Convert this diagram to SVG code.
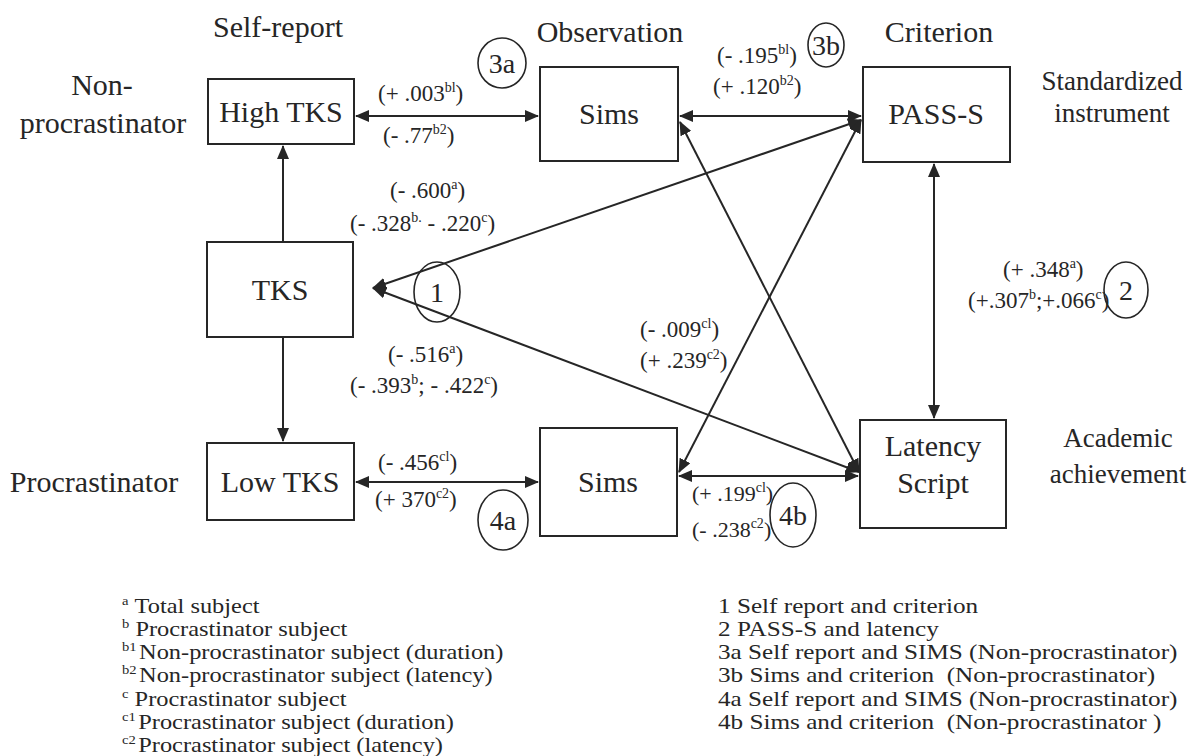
<svg xmlns="http://www.w3.org/2000/svg" width="1189" height="756" viewBox="0 0 1189 756" font-family="'Liberation Serif', 'DejaVu Serif', 'Times New Roman', serif">
<style>
text, tspan{font-family:'Liberation Serif','DejaVu Serif','Times New Roman',serif}
text{fill:#262626}
.n{font-size:30px;text-anchor:middle}
.s{font-size:27px;text-anchor:middle}
.v{font-size:23px}
.c{font-size:28px;text-anchor:middle}
.lg{font-size:20px}
.sup{font-size:14px}
.lsup{font-size:12px}
.box{fill:none;stroke:#262626;stroke-width:2}
.bg{fill:#ffffff;stroke:none}
ellipse{fill:none;stroke:#262626;stroke-width:1.6}
#connectors line{stroke:#262626;stroke-width:2;fill:none}
</style>
<defs>
<marker id="ah" viewBox="0 0 14 12" refX="13" refY="6" markerWidth="14" markerHeight="12" markerUnits="userSpaceOnUse" orient="auto-start-reverse">
<path d="M0,0 L14,6 L0,12 z" fill="#262626"/>
</marker>
</defs>
<rect class="bg" x="0" y="0" width="1189" height="756"/>

<!-- column / row headings -->
<text class="n" x="278" y="37">Self-report</text>
<text class="n" x="610" y="42">Observation</text>
<text class="n" x="939" y="42">Criterion</text>
<text class="n" x="102" y="95">Non-</text>
<text class="n" x="103" y="133">procrastinator</text>
<text class="s" x="1112" y="90">Standardized</text>
<text class="s" x="1112" y="122">instrument</text>
<text class="s" x="1118" y="447">Academic</text>
<text class="s" x="1118" y="483">achievement</text>
<text class="n" x="94" y="492">Procrastinator</text>

<!-- connectors -->
<g id="connectors">
<line x1="356" y1="116" x2="538" y2="116" marker-start="url(#ah)" marker-end="url(#ah)"/>
<line x1="680" y1="116" x2="861" y2="116" marker-start="url(#ah)" marker-end="url(#ah)"/>
<line x1="283" y1="242" x2="283" y2="146" marker-end="url(#ah)"/>
<line x1="283" y1="337" x2="283" y2="441" marker-end="url(#ah)"/>
<line x1="861" y1="120" x2="373" y2="288" marker-start="url(#ah)" marker-end="url(#ah)"/>
<line x1="859" y1="472" x2="373" y2="288" marker-start="url(#ah)" marker-end="url(#ah)"/>
<line x1="680" y1="122" x2="859" y2="472" marker-start="url(#ah)" marker-end="url(#ah)"/>
<line x1="679" y1="472" x2="861" y2="120" marker-start="url(#ah)" marker-end="url(#ah)"/>
<line x1="934" y1="164" x2="934" y2="418" marker-start="url(#ah)" marker-end="url(#ah)"/>
<line x1="356" y1="482" x2="538" y2="482" marker-start="url(#ah)" marker-end="url(#ah)"/>
<line x1="679" y1="476" x2="858" y2="476" marker-start="url(#ah)" marker-end="url(#ah)"/>
</g>

<!-- nodes -->
<g id="high-tks"><rect class="box" x="208" y="79" width="146" height="65"/><text class="n" x="281" y="122">High TKS</text></g>
<g id="sims-top"><rect class="box" x="540" y="67" width="138" height="94"/><text class="n" x="609" y="124">Sims</text></g>
<g id="pass-s"><rect class="box" x="863" y="67" width="147" height="95"/><text class="n" x="936" y="124">PASS-S</text></g>
<g id="tks"><rect class="box" x="207" y="242" width="146" height="95"/><text class="n" x="280" y="300">TKS</text></g>
<g id="low-tks"><rect class="box" x="207" y="443" width="147" height="77"/><text class="n" x="280" y="492">Low TKS</text></g>
<g id="sims-bottom"><rect class="box" x="540" y="428" width="137" height="108"/><text class="n" x="608" y="492">Sims</text></g>
<g id="latency-script"><rect class="box" x="860" y="420" width="146" height="108"/><text class="n" x="933" y="456">Latency</text><text class="n" x="933" y="493">Script</text></g>

<!-- numbered circles -->
<g id="circle-3a"><ellipse cx="502" cy="63" rx="24" ry="25"/><text class="c" x="502" y="73">3a</text></g>
<g id="circle-3b"><ellipse cx="826" cy="45" rx="18" ry="22"/><text class="c" x="826" y="55">3b</text></g>
<g id="circle-1"><ellipse cx="437" cy="292" rx="23" ry="30"/><text class="c" x="437" y="302">1</text></g>
<g id="circle-2"><ellipse cx="1126" cy="290" rx="22" ry="28"/><text class="c" x="1126" y="300">2</text></g>
<g id="circle-4a"><ellipse cx="503" cy="520" rx="25" ry="30"/><text class="c" x="503" y="530">4a</text></g>
<g id="circle-4b"><ellipse cx="793" cy="515" rx="23" ry="32"/><text class="c" x="793" y="525">4b</text></g>

<!-- coefficient labels -->
<text class="v" x="378" y="101">(+ .003<tspan class="sup" dy="-9">bl</tspan><tspan dy="9">)</tspan></text>
<text class="v" x="383" y="143">(- .77<tspan class="sup" dy="-9">b2</tspan><tspan dy="9">)</tspan></text>
<text class="v" x="717" y="63">(- .195<tspan class="sup" dy="-9">bl</tspan><tspan dy="9">)</tspan></text>
<text class="v" x="713" y="94">(+ .120<tspan class="sup" dy="-9">b2</tspan><tspan dy="9">)</tspan></text>
<text class="v" x="390" y="198">(- .600<tspan class="sup" dy="-9">a</tspan><tspan dy="9">)</tspan></text>
<text class="v" x="350" y="231">(- .328<tspan class="sup" dy="-9">b.</tspan><tspan dy="9"> - .220</tspan><tspan class="sup" dy="-9">c</tspan><tspan dy="9">)</tspan></text>
<text class="v" x="388" y="362">(- .516<tspan class="sup" dy="-9">a</tspan><tspan dy="9">)</tspan></text>
<text class="v" x="350" y="393">(- .393<tspan class="sup" dy="-9">b</tspan><tspan dy="9">; - .422</tspan><tspan class="sup" dy="-9">c</tspan><tspan dy="9">)</tspan></text>
<text class="v" x="1003" y="277">(+ .348<tspan class="sup" dy="-9">a</tspan><tspan dy="9">)</tspan></text>
<text class="v" x="968" y="308">(+.307<tspan class="sup" dy="-9">b</tspan><tspan dy="9">;+.066</tspan><tspan class="sup" dy="-9">c</tspan><tspan dy="9">)</tspan></text>
<text class="v" x="640" y="337">(- .009<tspan class="sup" dy="-9">cl</tspan><tspan dy="9">)</tspan></text>
<text class="v" x="640" y="368">(+ .239<tspan class="sup" dy="-9">c2</tspan><tspan dy="9">)</tspan></text>
<text class="v" x="378" y="470">(- .456<tspan class="sup" dy="-9">cl</tspan><tspan dy="9">)</tspan></text>
<text class="v" x="375" y="507">(+ 370<tspan class="sup" dy="-9">c2</tspan><tspan dy="9">)</tspan></text>
<text class="v" x="692" y="501" style="font-size:22px">(+ .199<tspan class="sup" dy="-9">cl</tspan><tspan dy="9">)</tspan></text>
<text class="v" x="692" y="537" style="font-size:22px">(- .238<tspan class="sup" dy="-9">c2</tspan><tspan dy="9">)</tspan></text>

<!-- legend left -->
<g id="legend-superscripts">
<text class="lg" transform="translate(122,613) scale(1.22,1)"><tspan class="lsup" dy="-8">a</tspan><tspan dx="5" dy="8">Total subject</tspan></text>
<text class="lg" transform="translate(122,636) scale(1.22,1)"><tspan class="lsup" dy="-8">b</tspan><tspan dx="5" dy="8">Procrastinator subject</tspan></text>
<text class="lg" transform="translate(122,659) scale(1.22,1)"><tspan class="lsup" dy="-8">b1</tspan><tspan dx="2" dy="8">Non-procrastinator subject (duration)</tspan></text>
<text class="lg" transform="translate(122,682) scale(1.22,1)"><tspan class="lsup" dy="-8">b2</tspan><tspan dx="2" dy="8">Non-procrastinator subject (latency)</tspan></text>
<text class="lg" transform="translate(122,706) scale(1.22,1)"><tspan class="lsup" dy="-8">c</tspan><tspan dx="5" dy="8">Procrastinator subject</tspan></text>
<text class="lg" transform="translate(122,729) scale(1.22,1)"><tspan class="lsup" dy="-8">c1</tspan><tspan dx="2" dy="8">Procrastinator subject (duration)</tspan></text>
<text class="lg" transform="translate(122,752) scale(1.22,1)"><tspan class="lsup" dy="-8">c2</tspan><tspan dx="2" dy="8">Procrastinator subject (latency)</tspan></text>
</g>
<!-- legend right -->
<g id="legend-numbers">
<text class="lg" transform="translate(718,613) scale(1.26,1)">1 Self report and criterion</text>
<text class="lg" transform="translate(718,636) scale(1.26,1)">2 PASS-S and latency</text>
<text class="lg" transform="translate(718,659) scale(1.26,1)">3a Self report and SIMS (Non-procrastinator)</text>
<text class="lg" transform="translate(718,682) scale(1.26,1)">3b Sims and criterion&#160; (Non-procrastinator)</text>
<text class="lg" transform="translate(718,706) scale(1.26,1)">4a Self report and SIMS (Non-procrastinator)</text>
<text class="lg" transform="translate(718,729) scale(1.26,1)">4b Sims and criterion&#160; (Non-procrastinator )</text>
</g>
</svg>
